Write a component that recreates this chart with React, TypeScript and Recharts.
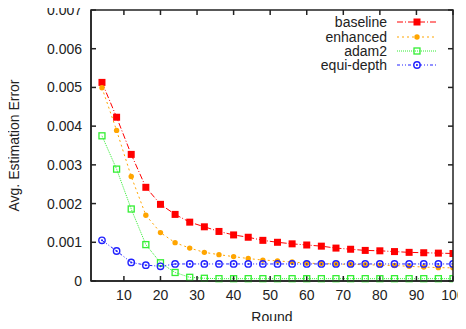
import {
  LineChart,
  Line,
  XAxis,
  YAxis
} from 'recharts'

const rounds = [4, 8, 12, 16, 20, 24, 28, 32, 36, 40, 44, 48, 52, 56, 60, 64, 68, 72, 76, 80, 84, 88, 92, 96, 100]

const baseline = [
  0.00513, 0.00423, 0.00327, 0.00242, 0.00198, 0.00172, 0.00152, 0.0014, 0.00128, 0.00119, 0.00113,
  0.00105, 0.001, 0.00096, 0.00093, 0.0009, 0.00085, 0.00082, 0.00079, 0.00078, 0.00076, 0.00074,
  0.00073, 0.00072, 0.00071
]
const enhanced = [
  0.00499, 0.00389, 0.0027, 0.0017, 0.00125, 0.00099, 0.00085, 0.00074, 0.00068, 0.00063, 0.00058,
  0.00054, 0.00052, 0.00049, 0.00046, 0.00045, 0.00044, 0.00043, 0.00042, 0.00041, 0.0004, 0.00038,
  0.00036, 0.000345, 0.00034
]
const adam2 = [
  0.00375, 0.00289, 0.00186, 0.00094, 0.00047, 0.00022, 0.000095, 0.00007, 0.00006, 0.00006, 0.00006,
  0.00006, 0.00006, 0.00006, 0.00006, 0.00006, 0.00006, 0.00006, 0.00006, 0.00006, 0.00006, 0.00006,
  0.00006, 0.00006, 0.00006
]
const equiDepth = [
  0.00105, 0.000775, 0.00048, 0.00041, 0.00038, 0.00044, 0.00044, 0.00044, 0.00044, 0.00044, 0.00044,
  0.00044, 0.00044, 0.00044, 0.00044, 0.00044, 0.00044, 0.00044, 0.00044, 0.00044, 0.00044, 0.00044,
  0.00044, 0.00044, 0.00044
]

const xTicks = [10, 20, 30, 40, 50, 60, 70, 80, 90, 100]
const yTicks = [0, 0.001, 0.002, 0.003, 0.004, 0.005, 0.006, 0.007]

const data = rounds.map((r, i) => ({
  round: r,
  baseline: baseline[i],
  enhanced: enhanced[i],
  adam2: adam2[i],
  equiDepth: equiDepth[i]
}))

const FONT = '"Liberation Sans", Arial, sans-serif'
const INK = '#222'

// plot box (gnuplot border)
const W = 466
const H = 329
const PLOT_LEFT = 91
const PLOT_TOP = 10
const PLOT_RIGHT = W - 13
const PLOT_BOTTOM = H - 48

type Kind = 'square' | 'circle' | 'openSquare' | 'openCircle'

function Marker({ cx, cy, kind, color }: { cx: number; cy: number; kind: Kind; color: string }) {
  if (cx == null || cy == null) return null
  switch (kind) {
    case 'square':
      return <rect x={cx - 3.5} y={cy - 3.5} width={7} height={7} fill={color} />
    case 'circle':
      return <circle cx={cx} cy={cy} r={2.7} fill={color} />
    case 'openSquare':
      return <rect x={cx - 3} y={cy - 3} width={6} height={6} fill="none" stroke={color} strokeWidth={1.3} />
    default:
      return (
        <g>
          <circle cx={cx} cy={cy} r={3.2} fill="none" stroke={color} strokeWidth={1.4} />
          <circle cx={cx} cy={cy} r={1} fill={color} />
        </g>
      )
  }
}

const series = [
  { key: 'baseline', name: 'baseline', color: '#ff0000', dash: '6 2 1 2', kind: 'square' as Kind },
  { key: 'enhanced', name: 'enhanced', color: '#ffa500', dash: '2 3', kind: 'circle' as Kind },
  { key: 'adam2', name: 'adam2', color: '#33ee33', dash: '1 1', kind: 'openSquare' as Kind },
  { key: 'equiDepth', name: 'equi-depth', color: '#2222ff', dash: '3 2 1 2 1 2', kind: 'openCircle' as Kind }
]

// bottom tick label + mirrored inward tick on the top border
function XTick(props: any) {
  const { x, y, payload } = props
  return (
    <g>
      <line x1={x} x2={x} y1={PLOT_TOP} y2={PLOT_TOP + 5} stroke={INK} strokeWidth={1.5} />
      <text x={x} y={y} dy="0.71em" textAnchor="middle" fill={INK} fontSize={14} fontFamily={FONT}>
        {payload.value}
      </text>
    </g>
  )
}

// left tick label + mirrored inward tick on the right border
function YTick(props: any) {
  const { x, y, payload } = props
  const v = payload.value as number
  return (
    <g>
      <line x1={PLOT_RIGHT} x2={PLOT_RIGHT - 5} y1={y} y2={y} stroke={INK} strokeWidth={1.5} />
      <text x={x} y={y} dy="0.355em" textAnchor="end" fill={INK} fontSize={14} fontFamily={FONT}>
        {v === 0 ? '0' : v.toFixed(3)}
      </text>
    </g>
  )
}

// gnuplot-style key in the top right corner
function LegendBox() {
  return (
    <div style={{ position: 'absolute', right: 19, top: 15, fontFamily: FONT, fontSize: 14, color: INK }}>
      {series.map((s) => (
        <div key={s.key} style={{ display: 'flex', alignItems: 'center', justifyContent: 'flex-end', height: 14.4 }}>
          <span style={{ lineHeight: '12px', height: 12 }}>{s.name}</span>
          <svg width={50} height={12} style={{ marginLeft: 10 }}>
            <line x1={0} y1={6} x2={39} y2={6} stroke={s.color} strokeWidth={1} strokeDasharray={s.dash} />
            <Marker cx={20} cy={6} kind={s.kind} color={s.color} />
          </svg>
        </div>
      ))}
    </div>
  )
}

export default function App() {
  return (
    <div style={{ position: 'relative', width: W, height: H, margin: -8, background: '#fff' }}>
      <LineChart
        width={W}
        height={H}
        data={data}
        margin={{ top: PLOT_TOP, right: W - PLOT_RIGHT, bottom: 0, left: 0 }}
      >
        <XAxis
          dataKey="round"
          type="number"
          domain={[1, 100]}
          ticks={xTicks}
          allowDataOverflow
          height={H - PLOT_BOTTOM}
          tickSize={-5}
          tickMargin={14}
          stroke={INK}
          strokeWidth={1.5}
          tick={<XTick />}
          label={{ value: 'Round', position: 'insideBottom', offset: 7, fill: INK, fontSize: 14, fontFamily: FONT }}
        />
        <YAxis
          type="number"
          domain={[0, 0.007]}
          ticks={yTicks}
          width={PLOT_LEFT}
          tickSize={-5}
          tickMargin={14}
          stroke={INK}
          strokeWidth={1.5}
          tick={<YTick />}
          label={{
            value: 'Avg. Estimation Error',
            angle: -90,
            position: 'insideLeft',
            offset: 14,
            style: { textAnchor: 'middle' },
            fill: INK,
            fontSize: 14,
            fontFamily: FONT
          }}
        />
        {series.map((s) => (
          <Line
            key={s.key}
            dataKey={s.key}
            name={s.name}
            type="linear"
            stroke={s.color}
            strokeWidth={1}
            strokeDasharray={s.dash}
            isAnimationActive={false}
            dot={(p: any) => <Marker key={`${s.key}-${p.index}`} cx={p.cx} cy={p.cy} kind={s.kind} color={s.color} />}
            activeDot={false}
          />
        ))}
      </LineChart>
      {/* full border box drawn over the plot */}
      <svg
        width={W}
        height={H}
        style={{ position: 'absolute', left: 0, top: 0, pointerEvents: 'none' }}
      >
        <rect
          x={PLOT_LEFT}
          y={PLOT_TOP}
          width={PLOT_RIGHT - PLOT_LEFT}
          height={PLOT_BOTTOM - PLOT_TOP}
          fill="none"
          stroke={INK}
          strokeWidth={1.5}
        />
      </svg>
      <LegendBox />
    </div>
  )
}
